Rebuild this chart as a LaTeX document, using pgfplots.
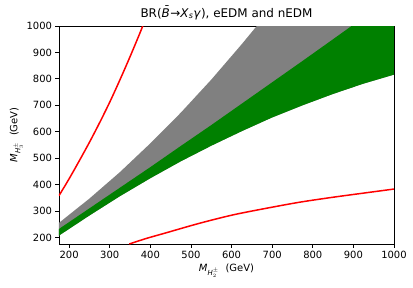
\documentclass[border=0pt]{standalone}
\usepackage{fontspec}
\setmainfont{DejaVu Sans}
\usepackage{pgfplots}
\pgfplotsset{compat=1.18}
\definecolor{mplgray}{RGB}{128,128,128}
\definecolor{mplgreen}{RGB}{0,128,0}
\definecolor{mplred}{RGB}{255,0,0}
\begin{document}
\begin{tikzpicture}
\path[use as bounding box] (-59bp,-44bp) rectangle (354bp,244bp);
\begin{axis}[
  at={(0,0)}, anchor=south west,
  scale only axis, width=335bp, height=218bp,
  xmin=175, xmax=1000, ymin=175, ymax=1000,
  xtick={200,300,...,1000}, ytick={200,300,...,1000},
  tick align=outside, tick pos=left,
  major tick length=3.5bp,
  axis line style={line width=0.8bp},
  every tick/.style={black, line width=0.8bp},
  tick label style={font=\fontsize{10}{12}\selectfont},
  /pgf/number format/assume math mode=true,
  /pgf/number format/1000 sep={},
  label style={font=\fontsize{10}{12}\selectfont},
  xlabel={$\mathit{M}_{\mathit{H}_2^{\pm}}$\ \ (GeV)},
  ylabel={$\mathit{M}_{\mathit{H}_3^{\pm}}$\ \ (GeV)},
  xlabel style={yshift=1bp},
  ylabel style={yshift=-3bp},
  title={BR(\textit{B̄}→\textit{X}\textsubscript{\textit{s}}\textit{γ}), eEDM and nEDM},
  title style={font=\fontsize{12}{14}\selectfont, yshift=-3bp},
]
% gray region: upper boundary G down to lower boundary L
\addplot[fill=mplgray, draw=none] coordinates {
 (175,255) (250,347) (325,447) (400,556) (475,672) (550,797) (625,931) (662,1000)
 (1000,1000)
 (1000,816) (925,782) (850,743) (775,700) (700,654) (625,602) (550,547) (475,488) (400,424) (325,356) (250,283) (175,207)
} -- cycle;
% green region: middle boundary M down to L
\addplot[fill=mplgreen, draw=none] coordinates {
 (175,232) (250,310) (325,388) (400,466) (475,546) (550,625) (625,706) (700,787) (775,868) (850,950) (900,1005)
 (1000,1005)
 (1000,816) (925,782) (850,743) (775,700) (700,654) (625,602) (550,547) (475,488) (400,424) (325,356) (250,283) (175,207)
} -- cycle;
\addplot[mplred, line width=1.5bp, smooth] coordinates {
 (175,358) (200,422) (225,490) (250,560) (275,634) (300,712) (325,796) (350,884) (375,976) (390,1035)
};
\addplot[mplred, line width=1.5bp, smooth] coordinates {
 (348,175) (390,196) (438,217) (520,253) (603,285) (685,310) (767,333) (850,352) (932,369) (1000,383)
};
\end{axis}
\end{tikzpicture}
\end{document}
